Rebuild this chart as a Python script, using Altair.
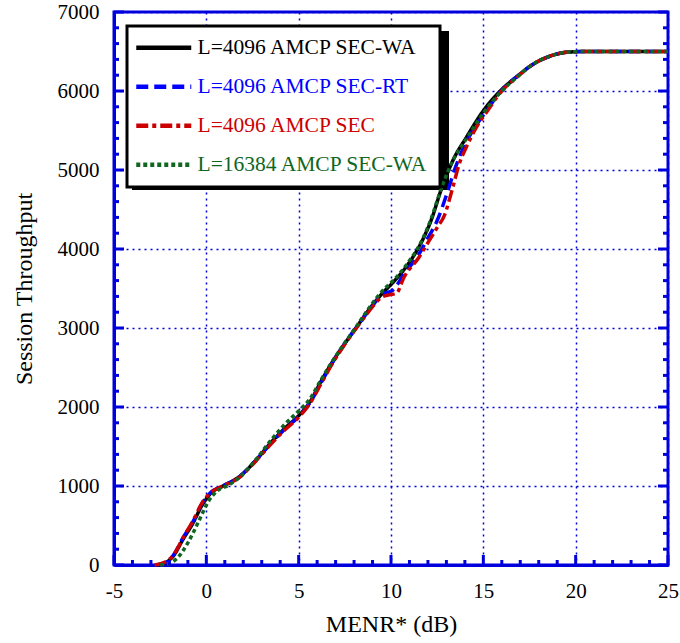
import altair as alt
import pandas as pd

series_names = ["L=4096 AMCP SEC-WA", "L=4096 AMCP SEC-RT", "L=4096 AMCP SEC", "L=16384 AMCP SEC-WA"]
series_colors = ["#000000", "#0000ff", "#cc0000", "#116622"]

black_x = [-2.7, -2.2, -1.8, -1.25, -0.7, -0.25, 0.25, 0.9, 1.8, 2.7, 3.5, 4.2, 5.0, 5.6, 6.2, 6.8, 7.4, 8.1, 8.8, 9.5, 10.2, 10.9, 11.7, 12.2, 12.7, 13.35, 14.1, 15.0, 16.0, 16.8, 17.7, 18.6, 19.5, 20.5, 25]
black_y = [0, 30, 110, 330, 540, 750, 910, 1000, 1120, 1330, 1550, 1720, 1890, 2060, 2320, 2560, 2770, 3000, 3230, 3430, 3600, 3800, 4110, 4380, 4740, 5120, 5420, 5750, 6020, 6180, 6340, 6440, 6490, 6500, 6500]

blue_x = [-2.7, -2.2, -1.8, -1.25, -0.7, -0.25, 0.25, 0.9, 1.8, 2.7, 3.5, 4.2, 5.0, 5.6, 6.2, 6.8, 7.4, 8.1, 8.8, 9.5, 10.1, 10.7, 11.5, 12.0, 12.5, 13.0, 13.5, 14.0, 14.6, 15.2, 16.0, 16.8, 17.7, 18.6, 19.5, 20.5, 25]
blue_y = [0, 30, 120, 350, 560, 770, 920, 1000, 1120, 1330, 1540, 1710, 1880, 2050, 2300, 2550, 2770, 3000, 3220, 3420, 3480, 3680, 3930, 4140, 4360, 4680, 5040, 5320, 5560, 5760, 6010, 6180, 6340, 6440, 6490, 6500, 6500]

red_x = [-2.8, -2.3, -1.8, -1.25, -0.7, -0.25, 0.25, 0.9, 1.8, 2.7, 3.5, 4.2, 5.0, 5.6, 6.2, 6.8, 7.4, 8.1, 8.8, 9.5, 9.9, 10.3, 10.7, 11.5, 12.05, 12.5, 12.9, 13.3, 13.7, 14.1, 14.6, 15.2, 16.0, 16.8, 17.7, 18.6, 19.5, 20.5, 25]
red_y = [0, 30, 120, 350, 570, 780, 920, 1000, 1110, 1320, 1530, 1700, 1870, 2040, 2290, 2540, 2760, 2990, 3210, 3390, 3420, 3440, 3640, 3890, 4100, 4270, 4430, 4740, 5080, 5300, 5530, 5740, 6000, 6170, 6340, 6440, 6490, 6500, 6500]

green_x = [-2.5, -2.0, -1.6, -1.0, -0.4, 0.1, 0.6, 1.2, 1.8, 2.7, 3.5, 4.2, 5.0, 5.6, 6.2, 6.8, 7.4, 8.1, 8.8, 9.5, 10.2, 10.9, 11.7, 12.2, 12.7, 13.35, 14.1, 15.0, 16.0, 16.8, 17.7, 18.6, 19.5, 20.5, 25]
green_y = [0, 20, 80, 280, 560, 800, 940, 1010, 1110, 1340, 1580, 1770, 1950, 2100, 2340, 2570, 2780, 3010, 3250, 3460, 3620, 3820, 4120, 4400, 4750, 5120, 5400, 5720, 6000, 6170, 6340, 6440, 6490, 6500, 6500]

x_major = [-5, 0, 5, 10, 15, 20, 25]
x_minor = [v for v in range(-5, 26) if v % 5 != 0]
y_major = [0, 1000, 2000, 3000, 4000, 5000, 6000, 7000]
y_minor = [v for v in range(0, 7001, 200) if v % 1000 != 0]

rows = []
for name, xs, ys in zip(series_names, [black_x, blue_x, red_x, green_x], [black_y, blue_y, red_y, green_y]):
    for i, (a, b) in enumerate(zip(xs, ys)):
        rows.append({"series": name, "x": a, "y": b, "i": i})
df = pd.DataFrame(rows)

W, H = 554, 553
BLUE = "#0000dd"
FONT = "Liberation Serif"

xscale = alt.Scale(domain=[-5, 25], nice=False, zero=False)
yscale = alt.Scale(domain=[0, 7000], nice=False)

xaxis = alt.Axis(values=x_major, labelExpr="'' + datum.value", ticks=False,
                 domainColor=BLUE, domainWidth=3,
                 gridColor=BLUE, gridDash=[2, 4], gridWidth=1.5,
                 labelFont=FONT, labelFontSize=21, labelColor="black", labelPadding=15,
                 labelFlush=False, labelOverlap=False,
                 title="MENR* (dB)", titleFont=FONT, titleFontSize=24, titleFontWeight="normal",
                 titleColor="black", titlePadding=11)
yaxis = alt.Axis(values=y_major, format="d", ticks=False,
                 domainColor=BLUE, domainWidth=3,
                 gridColor=BLUE, gridDash=[2, 4], gridWidth=1.5,
                 labelFont=FONT, labelFontSize=21, labelColor="black", labelPadding=15,
                 labelFlush=False, labelOverlap=False,
                 title="Session Throughput", titleFont=FONT, titleFontSize=24, titleFontWeight="normal",
                 titleColor="black", titlePadding=21)

label_expr = ("datum.label == 'L=4096 AMCP SEC-WA' ? '#000000' : "
              "datum.label == 'L=4096 AMCP SEC-RT' ? '#0000ff' : "
              "datum.label == 'L=4096 AMCP SEC' ? '#cc0000' : '#116622'")

leg = alt.Legend(
    orient="none", legendX=13, legendY=14, direction="vertical",
    symbolType="M-5.5,0H5.5", symbolSize=100, symbolStrokeWidth=4.5,
    symbolFillColor="transparent", symbolOffset=15,
    labelFont=FONT, labelFontSize=21.5, labelOffset=23, labelLimit=400,
    labelColor={"expr": label_expr},
    rowPadding=16, padding=11, fillColor="white", strokeColor="black",
)

lines = alt.Chart(df).mark_line(strokeWidth=3.5, interpolate="monotone", strokeCap="butt").encode(
    x=alt.X("x:Q", scale=xscale, axis=xaxis),
    y=alt.Y("y:Q", scale=yscale, axis=yaxis),
    color=alt.Color("series:N", scale=alt.Scale(domain=series_names, range=series_colors), title=None, legend=leg),
    strokeDash=alt.StrokeDash("series:N", scale=alt.Scale(domain=series_names, range=[[1, 0], [12, 6], [12, 4, 4, 4], [4, 3]]), title=None, legend=leg),
    order="i:Q",
)

shadow = alt.Chart(pd.DataFrame({"a": [0]})).mark_rect(color="black").encode(
    x=alt.value(18), x2=alt.value(335), y=alt.value(19), y2=alt.value(178)
)

def rule_x(vals, length):
    return alt.Chart(pd.DataFrame({"x": vals})).mark_rule(color=BLUE, strokeWidth=3).encode(
        x=alt.X("x:Q", scale=xscale, axis=xaxis), y=alt.value(H), y2=alt.value(H - length))

def rule_y(vals, x0, x1):
    return alt.Chart(pd.DataFrame({"y": vals})).mark_rule(color=BLUE, strokeWidth=3).encode(
        y=alt.Y("y:Q", scale=yscale, axis=yaxis), x=alt.value(x0), x2=alt.value(x1))

layers = [shadow, lines,
          rule_x(x_major, 10), rule_x(x_minor, 5),
          rule_y(y_major, 0, 10), rule_y(y_minor, 0, 5),
          rule_y(y_major, W, W - 10), rule_y(y_minor, W, W - 5)]

chart = alt.layer(*layers).properties(
    width=W, height=H,
    autosize=alt.AutoSizeParams(type="none"),
    padding={"left": 114, "top": 12, "right": 12, "bottom": 78},
    background="white",
).configure_view(stroke=BLUE, strokeWidth=3).configure_legend(strokeWidth=3).configure_axis(
    labelFont=FONT, titleFont=FONT
).configure_text(font=FONT)

chart.save("out.html", embed_options={"renderer": "svg", "actions": False})
